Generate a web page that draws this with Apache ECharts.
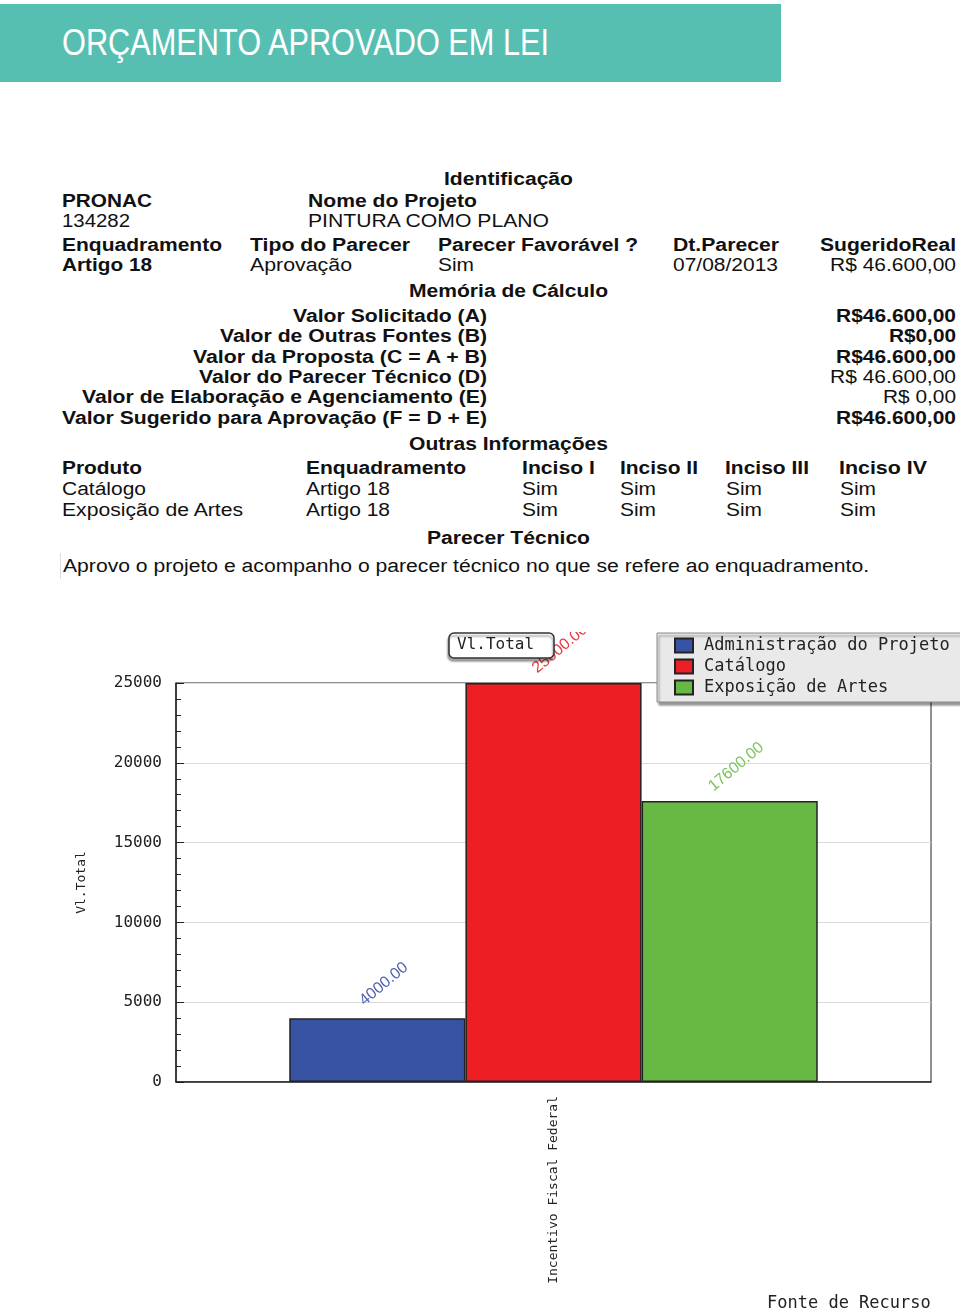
<!DOCTYPE html>
<html><head><meta charset="utf-8">
<script src="https://cdn.jsdelivr.net/npm/echarts@6/dist/echarts.min.js"></script>
<style>
html,body{margin:0;padding:0;background:#fff;width:960px;height:1312px;overflow:hidden;}
body{position:relative;}
#hdr{position:absolute;left:0;top:4px;width:781px;height:78px;background:#57bfb1;}
.t{position:absolute;white-space:nowrap;font-family:"Liberation Sans",Arial,sans-serif;font-size:18px;line-height:20px;color:#111;transform-origin:0 50%;}
.b{font-weight:bold;}
#vline{position:absolute;left:60px;top:553px;width:1px;height:26px;background:#ddd;}
#chart{position:absolute;left:0;top:632px;width:960px;height:680px;}
</style></head><body>
<div id="hdr"></div>
<div id="vline"></div>
<div id="chart"></div>
<script>
// ---- chart data ----
const categories = ['Incentivo Fiscal Federal'];
const seriesNames = ['Administração do Projeto', 'Catálogo', 'Exposição de Artes'];
const seriesValues = [4000, 25000, 17600];
const yMin = 0, yMax = 25000, yInterval = 5000;
const yAxisTitle = 'Vl.Total';
const xAxisTitle = 'Fonte de Recurso';
const chartTitle = 'Vl.Total';

// ---- page text (text, left, right, centerY, bold) ----
const textLayout = [
  ['Identificação', 444, 573, 179, 1],
  ['PRONAC', 62, 152, 201, 1],
  ['Nome do Projeto', 308, 477, 201, 1],
  ['134282', 62, 130, 221, 0],
  ['PINTURA COMO PLANO', 308, 549, 221, 0],
  ['Enquadramento', 62, 222, 245, 1],
  ['Tipo do Parecer', 250, 410, 245, 1],
  ['Parecer Favorável ?', 438, 638, 245, 1],
  ['Dt.Parecer', 673, 779, 245, 1],
  ['SugeridoReal', 820, 956, 245, 1],
  ['Artigo 18', 62, 152, 265, 1],
  ['Aprovação', 250, 352, 265, 0],
  ['Sim', 438, 474, 265, 0],
  ['07/08/2013', 673, 778, 265, 0],
  ['R$ 46.600,00', 830, 956, 265, 0],
  ['Memória de Cálculo', 409, 608, 291, 1],
  ['Valor Solicitado (A)', 293, 487, 316, 1],
  ['Valor de Outras Fontes (B)', 220, 487, 336, 1],
  ['Valor da Proposta (C = A + B)', 193, 487, 357, 1],
  ['Valor do Parecer Técnico (D)', 199, 487, 377, 1],
  ['Valor de Elaboração e Agenciamento (E)', 82, 487, 397, 1],
  ['Valor Sugerido para Aprovação (F = D + E)', 62, 487, 418, 1],
  ['R$46.600,00', 836, 956, 316, 1],
  ['R$0,00', 889, 956, 336, 1],
  ['R$46.600,00', 836, 956, 357, 1],
  ['R$ 46.600,00', 830, 956, 377, 0],
  ['R$ 0,00', 883, 956, 397, 0],
  ['R$46.600,00', 836, 956, 418, 1],
  ['Outras Informações', 409, 608, 444, 1],
  ['Produto', 62, 142, 468, 1],
  ['Enquadramento', 306, 466, 468, 1],
  ['Inciso I', 522, 595, 468, 1],
  ['Inciso II', 620, 698, 468, 1],
  ['Inciso III', 725, 809, 468, 1],
  ['Inciso IV', 839, 927, 468, 1],
  ['Catálogo', 62, 146, 489, 0],
  ['Artigo 18', 306, 390, 489, 0],
  ['Sim', 522, 558, 489, 0],
  ['Sim', 620, 656, 489, 0],
  ['Sim', 726, 762, 489, 0],
  ['Sim', 840, 876, 489, 0],
  ['Exposição de Artes', 62, 243, 510, 0],
  ['Artigo 18', 306, 390, 510, 0],
  ['Sim', 522, 558, 510, 0],
  ['Sim', 620, 656, 510, 0],
  ['Sim', 726, 762, 510, 0],
  ['Sim', 840, 876, 510, 0],
  ['Parecer Técnico', 427, 590, 538, 1],
  ['Aprovo o projeto e acompanho o parecer técnico no que se refere ao enquadramento.', 63, 869, 566, 0]
];

function place(txt, x1, x2, yc, bold, extra) {
  const s = document.createElement('span');
  s.className = 't' + (bold ? ' b' : '');
  s.textContent = txt;
  if (extra) Object.assign(s.style, extra);
  document.body.appendChild(s);
  const lh = parseFloat(getComputedStyle(s).lineHeight);
  s.style.left = x1 + 'px';
  s.style.top = (yc - lh / 2) + 'px';
  const w = s.getBoundingClientRect().width;
  s.style.transform = 'scaleX(' + ((x2 - x1) / w).toFixed(4) + ')';
}
textLayout.forEach(r => place(r[0], r[1], r[2], r[3], r[4]));
place('ORÇAMENTO APROVADO EM LEI', 62, 549, 43, 0, {fontSize: '37px', lineHeight: '40px', color: '#fff'});

// ---- chart ----
const colors = ['#3953a4', '#ed1f24', '#68b944'];
const labelColors = ['#5262b0', '#e8383e', '#7ec35e'];
const mono = '"DejaVu Sans Mono", monospace';
const chart = echarts.init(document.getElementById('chart'), null, {renderer: 'canvas'});
chart.setOption({
  animation: false,
  title: {
    text: chartTitle, left: 449, top: 1, padding: [4, 20, 5, 8],
    backgroundColor: '#fff', borderColor: '#333', borderWidth: 1.5, borderRadius: 5,
    shadowColor: 'rgba(0,0,0,0.35)', shadowBlur: 2, shadowOffsetX: -1, shadowOffsetY: 3,
    textStyle: {fontFamily: mono, fontSize: 16, fontWeight: 'normal', color: '#222'}
  },
  legend: {
    orient: 'vertical', left: 657, top: 1, padding: [4, 12, 6, 17],
    itemWidth: 18, itemHeight: 14, itemGap: 4, icon: 'rect', selectedMode: false,
    backgroundColor: '#e9e9e9', borderColor: '#888', borderWidth: 1,
    shadowColor: 'rgba(0,0,0,0.4)', shadowBlur: 2, shadowOffsetX: 2, shadowOffsetY: 3,
    textStyle: {fontFamily: mono, fontSize: 17, color: '#222', padding: [0, 0, 0, 6]},
    data: seriesNames
  },
  grid: {left: 176, top: 51, right: 29, bottom: 230, show: true, borderColor: '#222', borderWidth: 1},
  xAxis: {
    type: 'category', data: categories,
    axisLine: {lineStyle: {color: '#222', width: 1.5}},
    axisTick: {show: false},
    axisLabel: {rotate: 90, margin: 14, fontFamily: mono, fontSize: 13, color: '#222'}
  },
  yAxis: {
    type: 'value', min: yMin, max: yMax, interval: yInterval,
    name: yAxisTitle, nameLocation: 'middle', nameGap: 88, nameRotate: 90,
    nameTextStyle: {fontFamily: mono, fontSize: 13, color: '#222'},
    axisLine: {show: true, lineStyle: {color: '#222', width: 1.5}},
    axisTick: {show: true, inside: true, length: 8, lineStyle: {color: '#222'}},
    minorTick: {show: true, splitNumber: 5, length: 5, lineStyle: {color: '#222'}},
    axisLabel: {margin: 14, fontFamily: mono, fontSize: 16, color: '#222', formatter: v => String(v)},
    splitLine: {lineStyle: {color: '#dadada'}}
  },
  series: seriesNames.map((n, i) => ({
    name: n, type: 'bar', barGap: '0%', barCategoryGap: '30%',
    data: [seriesValues[i]],
    itemStyle: {color: colors[i], borderColor: '#222', borderWidth: 1.5},
    label: {
      show: true, position: 'top', distance: 0, offset: [27, -22], rotate: 40,
      align: 'center', verticalAlign: 'middle',
      formatter: p => Number(p.value).toFixed(2),
      fontFamily: '"Liberation Sans", Arial, sans-serif', fontSize: 16, color: labelColors[i]
    }
  })),
  graphic: [{
    type: 'text', left: 767, top: 663,
    style: {text: xAxisTitle, font: '17px "DejaVu Sans Mono", monospace', fill: '#222'}
  }]
});
</script>
</body></html>
